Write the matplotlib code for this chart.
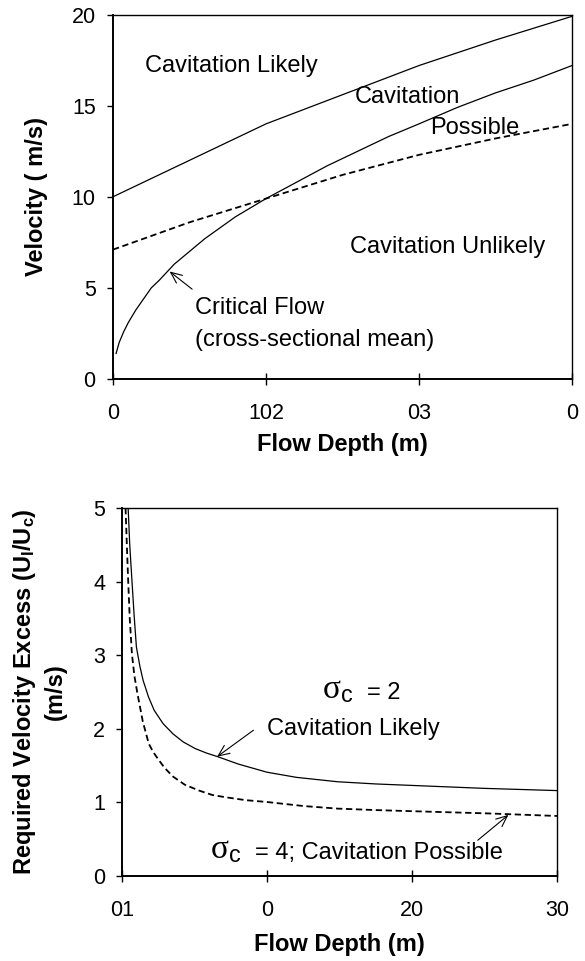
import matplotlib
matplotlib.use('Agg')
import matplotlib.pyplot as plt

plt.rcParams['font.family'] = ['Liberation Sans', 'DejaVu Sans']
plt.rcParams['mathtext.fontset'] = 'custom'
plt.rcParams['mathtext.rm'] = 'Liberation Serif'
plt.rcParams['mathtext.sf'] = 'Liberation Sans'
plt.rcParams['mathtext.bf'] = 'Liberation Sans:bold'
plt.rcParams['mathtext.it'] = 'Liberation Serif:italic'

# ---- 上图: 速度 vs 水深 ----
depth_upper = [0, 2.5, 5, 7.5, 10, 12.5, 15, 17.5, 20, 22.5, 25, 27.5, 30]
vel_upper = [10.0, 11.0, 12.0, 13.0, 14.0, 14.8, 15.6, 16.4, 17.2, 17.9, 18.6, 19.25, 19.9]

depth_crit = [0.2, 0.4, 0.7, 1, 1.5, 2, 2.5, 3, 4, 5, 6, 7, 8, 9, 10,
              12, 14, 16, 18, 20, 22.5, 25, 27.5, 30]
vel_crit = [1.4, 2.0, 2.6, 3.1, 3.8, 4.4, 5.0, 5.4, 6.3, 7.0, 7.7, 8.3, 8.9, 9.4, 9.9,
            10.8, 11.7, 12.5, 13.3, 14.0, 14.9, 15.7, 16.4, 17.2]

depth_dash = [0, 2.5, 5, 7.5, 10, 12.5, 15, 17.5, 20, 22.5, 25, 27.5, 30]
vel_dash = [7.1, 7.85, 8.6, 9.25, 9.9, 10.55, 11.2, 11.75, 12.3, 12.75, 13.2, 13.6, 14.0]

top_xticks = [0, 10, 20, 30]
top_xticklabels = ['0', '102', '03', '0']
top_yticks = [0, 5, 10, 15, 20]

# ---- 下图: 所需速度超出量 ----
depth_s2 = [0.39, 0.5, 0.65, 0.8, 0.96, 1.2, 1.42, 1.8, 2.19, 2.8, 3.49, 4.2, 5.03,
            5.8, 6.58, 8.0, 9.97, 12.0, 14.85, 17.5, 20.0, 25.0, 30.0]
excess_s2 = [5.0, 4.5, 4.02, 3.55, 3.11, 2.85, 2.66, 2.43, 2.25, 2.07, 1.93, 1.82, 1.73,
             1.67, 1.62, 1.52, 1.41, 1.34, 1.28, 1.25, 1.23, 1.19, 1.16]

depth_s4 = [0.21, 0.3, 0.39, 0.5, 0.65, 0.82, 1.03, 1.4, 1.81, 2.1, 2.45, 2.9, 3.49,
            4.3, 5.29, 6.2, 7.1, 8.5, 9.97, 12.5, 14.85, 17.5, 20.0, 25.2, 30.0]
excess_s4 = [5.0, 4.5, 4.02, 3.5, 3.02, 2.72, 2.48, 2.1, 1.80, 1.69, 1.59, 1.47, 1.35,
             1.24, 1.16, 1.10, 1.07, 1.03, 1.005, 0.95, 0.915, 0.895, 0.88, 0.85, 0.815]

bot_xticks = [0, 10, 20, 30]
bot_xticklabels = ['01', '0', '20', '30']
bot_yticks = [0, 1, 2, 3, 4, 5]

TXT = 17
TICK = 15.5
DASH = (0, (3.5, 2))
ARROW = dict(arrowstyle='->,head_length=0.8,head_width=0.35',
             lw=0.8, color='black', shrinkA=0, shrinkB=0)


def style_axes(ax):
    for side in ['top', 'right']:
        ax.spines[side].set_linewidth(1.0)
    for side in ['left', 'bottom']:
        ax.spines[side].set_linewidth(1.4)
    ax.tick_params(axis='y', direction='out', length=4.5, width=1.0,
                   labelsize=TICK, pad=8)
    ax.tick_params(axis='x', direction='inout', length=8, width=1.0,
                   labelsize=TICK, pad=13)


fig = plt.figure(figsize=(5.85, 9.61), dpi=100)

# 上图
ax1 = fig.add_axes([0.1932, 0.6056, 0.7846, 0.3793])
ax1.plot(depth_upper, vel_upper, color='black', lw=0.9)
ax1.plot(depth_crit, vel_crit, color='black', lw=0.9)
ax1.plot(depth_dash, vel_dash, color='black', lw=1.3, linestyle=DASH)
ax1.set_xlim(0, 30)
ax1.set_ylim(0, 20)
ax1.set_xticks(top_xticks)
ax1.set_xticklabels(top_xticklabels)
ax1.set_yticks(top_yticks)
style_axes(ax1)
ax1.set_xlabel('Flow Depth (m)', fontsize=TXT, fontweight='bold', va='center')
ax1.xaxis.set_label_coords(0.5, -0.181)
ax1.set_ylabel('Velocity ( m/s)', fontsize=TXT, fontweight='bold', va='center')
ax1.yaxis.set_label_coords(-0.166, 0.5)

ax1.text(2.1, 17.2, 'Cavitation Likely', fontsize=TXT, va='center')
ax1.text(15.8, 15.5, 'Cavitation', fontsize=TXT, va='center')
ax1.text(20.7, 13.8, 'Possible', fontsize=TXT, va='center')
ax1.text(15.5, 7.27, 'Cavitation Unlikely', fontsize=TXT, va='center')
ax1.text(5.34, 3.89, 'Critical Flow', fontsize=TXT, va='center')
ax1.text(5.34, 2.16, '(cross-sectional mean)', fontsize=TXT, va='center')
ax1.annotate('', xy=(3.7, 5.9), xytext=(5.17, 4.93), arrowprops=ARROW)

# 下图
ax2 = fig.add_axes([0.2094, 0.0885, 0.7427, 0.3829])
ax2.plot(depth_s2, excess_s2, color='black', lw=0.9)
ax2.plot(depth_s4, excess_s4, color='black', lw=1.3, linestyle=DASH)
ax2.set_xlim(0, 30)
ax2.set_ylim(0, 5)
ax2.set_xticks(bot_xticks)
ax2.set_xticklabels(bot_xticklabels)
ax2.set_yticks(bot_yticks)
style_axes(ax2)
ax2.set_xlabel('Flow Depth (m)', fontsize=TXT, fontweight='bold', va='center')
ax2.xaxis.set_label_coords(0.5, -0.1875)
ax2.set_ylabel('Required Velocity Excess (U$_{\\mathbf{I}}$/U$_{\\mathbf{c}}$)\n(m/s)',
               fontsize=TXT, fontweight='bold', va='center', linespacing=1.3)
ax2.yaxis.set_label_coords(-0.192, 0.5)

ax2.text(13.8, 2.41, '$\\mathrm{\\sigma}_{\\mathsf{c}}$', fontsize=24, va='baseline')
ax2.text(16.9, 2.41, '= 2', fontsize=TXT, va='baseline')
ax2.text(9.99, 2.0, 'Cavitation Likely', fontsize=TXT, va='center')
ax2.text(6.07, 0.235, '$\\mathrm{\\sigma}_{\\mathsf{c}}$', fontsize=24, va='baseline')
ax2.text(9.17, 0.235, '= 4; Cavitation Possible', fontsize=TXT, va='baseline')
ax2.annotate('', xy=(6.53, 1.62), xytext=(9.04, 1.98), arrowprops=ARROW)
ax2.annotate('', xy=(26.65, 0.83), xytext=(24.53, 0.485), arrowprops=ARROW)

fig.savefig('out.png', dpi=100)
